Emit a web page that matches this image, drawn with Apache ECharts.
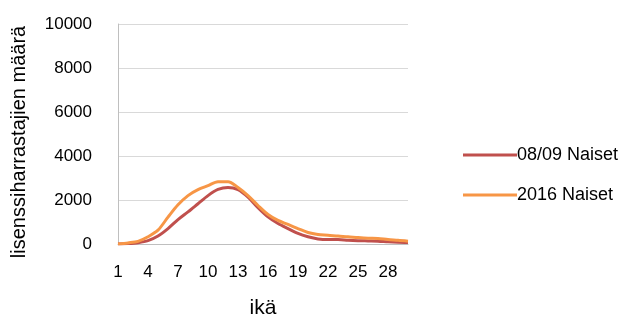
<!DOCTYPE html>
<html><head><meta charset="utf-8">
<script src="https://cdn.jsdelivr.net/npm/echarts@6/dist/echarts.min.js"></script>
<style>html,body{margin:0;padding:0;background:#fff}#c{width:632px;height:320px}</style>
</head><body><div id="c"></div>
<script>
var categories = [];
for (var i = 1; i <= 30; i++) categories.push(String(i));
var series0809 = [0, 20, 60, 150, 360, 700, 1110, 1460, 1830, 2200, 2480, 2570, 2470, 2130, 1650, 1230, 930, 700, 480, 330, 230, 200, 200, 170, 150, 140, 130, 100, 80, 70];
var series2016 = [0, 50, 120, 330, 630, 1220, 1780, 2200, 2470, 2650, 2830, 2830, 2570, 2200, 1750, 1340, 1070, 890, 700, 520, 430, 400, 360, 330, 290, 260, 250, 200, 170, 130];
var seriesNames = ['08/09 Naiset', '2016 Naiset'];
var yMin = 0, yMax = 10000, yStep = 2000;
var xTitle = 'ikä';
var yTitle = 'lisenssiharrastajien määrä';

var font = 'Liberation Sans';
var chart = echarts.init(document.getElementById('c'), null, {renderer: 'canvas'});
chart.setOption({
  animation: false,
  textStyle: {fontFamily: font},
  grid: {left: 118, right: 224, top: 24, bottom: 76, containLabel: false, outerBoundsMode: 'none'},
  graphic: [{
    type: 'text',
    rotation: Math.PI / 2,
    x: 19, y: 142,
    style: {text: yTitle, fontSize: 20, fontFamily: font, fill: '#000', textAlign: 'center', textVerticalAlign: 'middle'}
  }],
  legend: {
    orient: 'vertical', left: 458, top: 141, itemGap: 22,
    itemWidth: 54, itemHeight: 16, icon: 'path://M0,6 L54,6 L54,9 L0,9 Z',
    textStyle: {fontSize: 18, color: '#000', fontFamily: font, padding: [0, 0, 0, -5]},
    data: seriesNames
  },
  xAxis: {
    type: 'category', data: categories, boundaryGap: false,
    name: xTitle, nameLocation: 'middle', nameGap: 54,
    nameTextStyle: {fontSize: 21, color: '#000', fontFamily: font},
    axisLine: {lineStyle: {color: '#bfbfbf', width: 1}},
    axisTick: {show: false},
    axisLabel: {interval: 2, fontSize: 17, color: '#000', margin: 20, fontFamily: font}
  },
  yAxis: {
    type: 'value', min: yMin, max: yMax, interval: yStep,
    axisLine: {show: true, lineStyle: {color: '#bfbfbf', width: 1}},
    axisTick: {show: false},
    splitLine: {lineStyle: {color: '#d9d9d9', width: 1}},
    axisLabel: {fontSize: 17, color: '#000', margin: 26, fontFamily: font, formatter: function (v) { return String(v); }}
  },
  series: [
    {name: seriesNames[0], type: 'line', data: series0809, smooth: 0.3, symbol: 'none',
     lineStyle: {color: '#C0504D', width: 3}, itemStyle: {color: '#C0504D'}},
    {name: seriesNames[1], type: 'line', data: series2016, smooth: 0.3, symbol: 'none',
     lineStyle: {color: '#F79646', width: 3}, itemStyle: {color: '#F79646'}}
  ]
});
</script></body></html>
